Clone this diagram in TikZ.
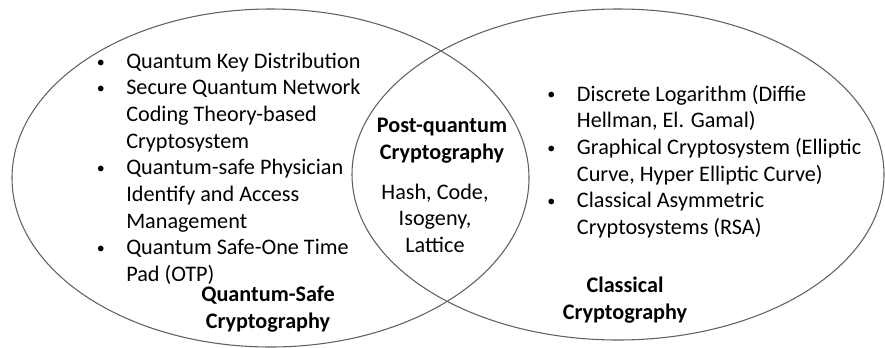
\documentclass[tikz,border=0pt]{standalone}
\usepackage{fontspec}
\usepackage{graphicx}
\setmainfont{Carlito}
\usetikzlibrary{shapes.geometric}
\newcommand\vbul{\makebox[38.25pt][c]{\raisebox{0.9pt}{\scalebox{0.72}{•}}}}
\begin{document}
\begin{tikzpicture}[x=0.75pt,y=-0.75pt,
  txt/.style={font=\fontsize{16.65}{20}\selectfont, inner sep=0pt, text=black},
  ttl/.style={font=\fontsize{16.65}{20}\selectfont\bfseries, inner sep=0pt, text=black},
  set/.style={ellipse, draw=black!62, line width=0.8pt, inner sep=0pt}]
\useasboundingbox (0,0) rectangle (885,347);
\node[set, minimum width=387.75pt, minimum height=253.5pt] (qs) at (270.5,178) {};
\node[set, minimum width=399pt, minimum height=248.25pt] (cl) at (618,174.5) {};

\node[txt, anchor=base west] (qslist) at (75,68.3) {\begin{tabular}[t]{@{}l@{}l@{}}
\vbul & Quantum Key Distribution\\
\vbul & Secure Quantum Network\\
 & Coding Theory-based\\
 & Cryptosystem\\
\vbul & Quantum-safe Physician\\
 & Identify and Access\\
 & Management\\
\vbul & Quantum Safe-One Time\\
 & Pad (OTP)
\end{tabular}};

\node[txt, anchor=base west] (cllist) at (525.7,101) {\begin{tabular}[t]{@{}l@{}l@{}}
\vbul & Discrete Logarithm (Diffie\\
 & Hellman, El. Gamal)\\
\vbul & Graphical Cryptosystem (Elliptic\\
 & Curve, Hyper Elliptic Curve)\\
\vbul & Classical Asymmetric\\
 & Cryptosystems (RSA)
\end{tabular}};

\node[ttl, anchor=base] (pq) at (442,132.7) {\begin{tabular}[t]{@{}c@{}}Post-quantum\\Cryptography\end{tabular}};
\node[txt, anchor=base] (pqlist) at (435,199) {\begin{tabular}[t]{@{}c@{}}Hash, Code,\\Isogeny,\\Lattice\end{tabular}};
\node[ttl, anchor=base] (qsl) at (268,301.7) {\begin{tabular}[t]{@{}c@{}}Quantum-Safe\\Cryptography\end{tabular}};
\node[ttl, anchor=base] (cll) at (625,292.7) {\begin{tabular}[t]{@{}c@{}}Classical\\Cryptography\end{tabular}};
\end{tikzpicture}
\end{document}
